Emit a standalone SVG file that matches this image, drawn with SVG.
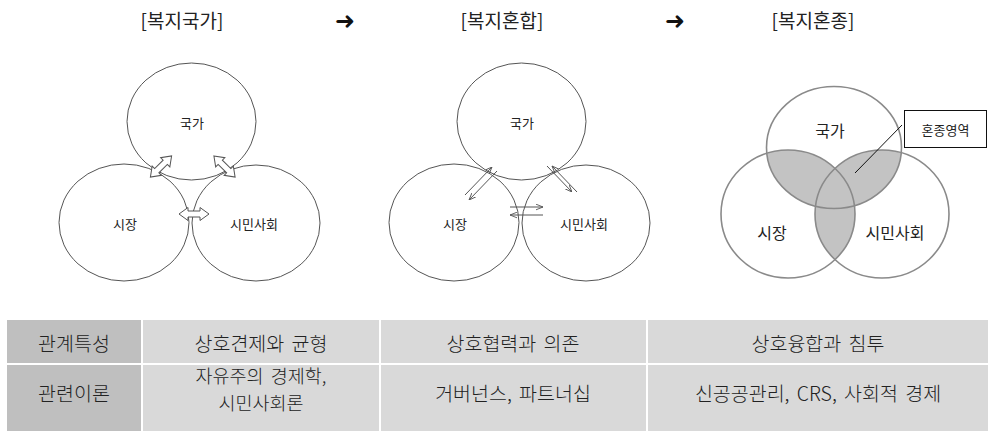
<svg xmlns="http://www.w3.org/2000/svg" width="988" height="431" viewBox="0 0 988 431">
<style>
  .title { font-family: "Noto Sans CJK KR", "Noto Sans", sans-serif; font-size: 19px; fill: #222; text-anchor: middle; }
  .arrowT { font-family: "DejaVu Sans", sans-serif; font-size: 24px; font-weight: bold; fill: #111; text-anchor: middle; }
  .c1 { fill: none; stroke: #555; stroke-width: 1; }
  .c3 { fill: none; stroke: #8a8a8a; stroke-width: 1.6; }
  .lbl { font-family: "Noto Sans CJK KR", "Noto Sans", sans-serif; font-size: 13px; fill: #222; text-anchor: middle; dominant-baseline: central; }
  .lbl3 { font-family: "Noto Sans CJK KR", "Noto Sans", sans-serif; font-size: 16px; fill: #222; text-anchor: middle; dominant-baseline: central; }
  .hollow { fill: #fff; stroke: #555; stroke-width: 1; }
  .thin { stroke: #555; stroke-width: 1; fill: none; marker-end: url(#ah); }
  .cell { font-family: "Noto Sans CJK KR", "Noto Sans", sans-serif; font-size: 19.5px; font-weight: 300; fill: #222; text-anchor: middle; dominant-baseline: central; word-spacing: 3px; }
  .cell2 { font-size: 18.5px; }
  .hdr { fill: #bfbfbf; }
  .body { fill: #d9d9d9; }
  .gray { fill: #c3c3c3; }
</style>
<defs>
  <marker id="ah" viewBox="0 0 10 10" refX="10" refY="5" markerWidth="7" markerHeight="7" orient="auto" markerUnits="userSpaceOnUse">
    <path d="M0,1 L10,5 L0,9" fill="none" stroke="#555" stroke-width="1.3"/>
  </marker>
  <polygon id="dbl" points="-15,0 -6,-6.5 -6,-3 6,-3 6,-6.5 15,0 6,6.5 6,3 -6,3 -6,6.5"/>
  <clipPath id="clipTop"><ellipse cx="834" cy="147.5" rx="67.5" ry="61"/></clipPath>
  <clipPath id="clipLeft"><ellipse cx="788" cy="214" rx="67" ry="64"/></clipPath>
</defs>
<rect width="988" height="431" fill="#fff"/>

<!-- titles -->
<g id="titles">
  <text class="title" x="182" y="28">[복지국가]</text>
  <text class="arrowT" x="345" y="29">➜</text>
  <text class="title" x="502" y="28">[복지혼합]</text>
  <text class="arrowT" x="675" y="29">➜</text>
  <text class="title" x="813" y="28">[복지혼종]</text>
</g>

<!-- Panel 1 -->
<g id="p1-state"><ellipse class="c1" cx="191.5" cy="121.5" rx="64.5" ry="58.5"/><text class="lbl" x="192" y="122">국가</text></g>
<g id="p1-market"><ellipse class="c1" cx="124" cy="222.5" rx="65" ry="58.5"/><text class="lbl" x="125" y="223">시장</text></g>
<g id="p1-civil"><ellipse class="c1" cx="256" cy="223" rx="64" ry="58"/><text class="lbl" x="254" y="223">시민사회</text></g>

<!-- Panel 2 -->
<g id="p2-state"><ellipse class="c1" cx="521.5" cy="121.5" rx="64.5" ry="58.5"/><text class="lbl" x="522" y="122">국가</text></g>
<g id="p2-market"><ellipse class="c1" cx="454" cy="222.5" rx="65" ry="58.5"/><text class="lbl" x="455" y="223">시장</text></g>
<g id="p2-civil"><ellipse class="c1" cx="586" cy="223" rx="64" ry="58"/><text class="lbl" x="584" y="223">시민사회</text></g>

<!-- Panel 3 gray overlaps -->
<g id="p3-overlap">
  <ellipse class="gray" cx="788" cy="214" rx="67" ry="64" clip-path="url(#clipTop)"/>
  <ellipse class="gray" cx="882" cy="214" rx="67" ry="64" clip-path="url(#clipTop)"/>
  <ellipse class="gray" cx="882" cy="214" rx="67" ry="64" clip-path="url(#clipLeft)"/>
</g>
<g id="p3-state"><ellipse class="c3" cx="834" cy="147.5" rx="67.5" ry="61"/><text class="lbl3" x="830" y="130">국가</text></g>
<g id="p3-market"><ellipse class="c3" cx="788" cy="214" rx="67" ry="64"/><text class="lbl3" x="772" y="232">시장</text></g>
<g id="p3-civil"><ellipse class="c3" cx="882" cy="214" rx="67" ry="64"/><text class="lbl3" x="895" y="232">시민사회</text></g>
<g id="p3-callout">
  <rect x="904.5" y="110.5" width="82" height="37" fill="#fff" stroke="#111" stroke-width="1"/>
  <text x="945.5" y="129" font-family="'Noto Sans CJK KR', sans-serif" font-size="13" fill="#222" text-anchor="middle" dominant-baseline="central">혼종영역</text>
</g>

<!-- connectors -->
<g id="connectors">
  <use href="#dbl" class="hollow" transform="translate(161,166.5) rotate(-45)"/>
  <use href="#dbl" class="hollow" transform="translate(224.5,166.5) rotate(45)"/>
  <use href="#dbl" class="hollow" transform="translate(194,214)"/>
  <line class="thin" x1="465" y1="195" x2="492" y2="167"/>
  <line class="thin" x1="497" y1="171" x2="469" y2="200"/>
  <line class="thin" x1="547" y1="166" x2="572" y2="192"/>
  <line class="thin" x1="577" y1="192" x2="552" y2="166"/>
  <line class="thin" x1="510" y1="207" x2="543" y2="207"/>
  <line class="thin" x1="543" y1="215" x2="510" y2="215"/>
  <line x1="902" y1="125" x2="855" y2="173" stroke="#111" stroke-width="1"/>
</g>

<!-- table -->
<g id="table">
  <rect class="hdr" x="7" y="320" width="134" height="43"/>
  <rect class="body" x="143" y="320" width="236" height="43"/>
  <rect class="body" x="381" y="320" width="265" height="43"/>
  <rect class="body" x="648" y="320" width="340" height="43"/>
  <rect class="hdr" x="7" y="365" width="134" height="66"/>
  <rect class="body" x="143" y="365" width="236" height="66"/>
  <rect class="body" x="381" y="365" width="265" height="66"/>
  <rect class="body" x="648" y="365" width="340" height="66"/>
  <text class="cell" x="74" y="342">관계특성</text>
  <text class="cell" x="261" y="342">상호견제와 균형</text>
  <text class="cell" x="513" y="342">상호협력과 의존</text>
  <text class="cell" x="818" y="342">상호융합과 침투</text>
  <text class="cell" x="74" y="392">관련이론</text>
  <text class="cell cell2" x="261" y="375">자유주의 경제학,</text>
  <text class="cell cell2" x="261" y="402">시민사회론</text>
  <text class="cell" x="513" y="392">거버넌스, 파트너십</text>
  <text class="cell" x="818" y="392">신공공관리, CRS, 사회적 경제</text>
</g>
</svg>
